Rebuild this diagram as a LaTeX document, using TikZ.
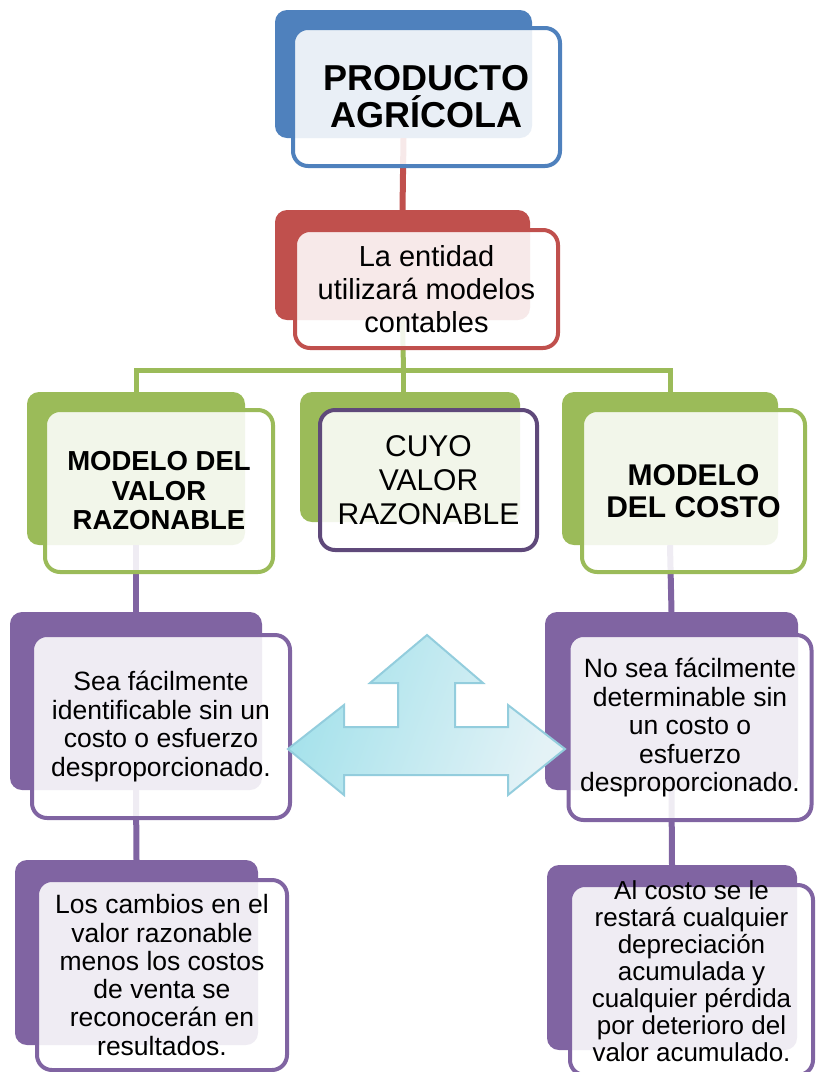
\documentclass[tikz,border=0pt]{standalone}
\usepackage{fontspec}
\setmainfont{Liberation Sans}
\usetikzlibrary{calc}
\definecolor{azul}{HTML}{4F81BD}
\definecolor{rojo}{HTML}{C0504D}
\definecolor{verde}{HTML}{9BBB59}
\definecolor{morado}{HTML}{8064A2}
\definecolor{moradoosc}{HTML}{5F497A}
\definecolor{celeste}{HTML}{93CDDD}
\tikzset{
  back/.style={rectangle,rounded corners=12pt,inner sep=0pt},
  front/.style={rectangle,rounded corners=15pt,inner sep=0pt,line width=4pt,
    fill=white,fill opacity=0.88,text opacity=1,align=center,text=black},
  link/.style={line width=6pt},
}
\begin{document}
\begin{tikzpicture}[x=1pt,y=-1pt]
  \useasboundingbox (0,0) rectangle (815,1072);

  % back rectangles
  \node[back,fill=azul,minimum width=257pt,minimum height=128pt] (prodback) at (403.5,74) {};
  \node[back,fill=rojo,minimum width=255pt,minimum height=110pt] (entback) at (402.5,265) {};
  \node[back,fill=verde,minimum width=218pt,minimum height=153pt] (valback) at (136,468.5) {};
  \node[back,fill=verde,minimum width=220pt,minimum height=130pt] (cuyoback) at (410,457) {};
  \node[back,fill=verde,minimum width=216pt,minimum height=153pt] (costback) at (670,468.5) {};
  \node[back,fill=morado,minimum width=252pt,minimum height=178pt] (seaback) at (136,701) {};
  \node[back,fill=morado,minimum width=253pt,minimum height=178pt] (nosback) at (671.5,701) {};
  \node[back,fill=morado,minimum width=243pt,minimum height=185pt] (cambback) at (136.5,952.5) {};
  \node[back,fill=morado,minimum width=250pt,minimum height=185pt] (restback) at (672,957.5) {};

  % connectors
  \coordinate (bus) at (403.5,370);
  \draw[link,rojo] (prodback.south) -- (entback.north);
  \draw[link,verde,line width=5pt] (entback.south) -- (bus);
  \draw[link,verde,line width=5pt] (valback.north) |- (bus) -| (costback.north);
  \draw[link,verde,line width=5pt] (bus) -- (bus |- cuyoback.north);
  \draw[link,morado] (valback.south) -- (seaback.north);
  \draw[link,morado] (costback.south) -- (nosback.north);
  \draw[link,morado] (seaback.south) -- (cambback.north);
  \draw[link,morado] (nosback.south) -- (restback.north);

  % front boxes
  \node[front,draw=azul,minimum width=267pt,minimum height=138pt,
    font=\fontsize{36}{37}\selectfont\bfseries] (prod) at (426.5,97) {PRODUCTO\\AGRÍCOLA};
  \node[front,draw=rojo,minimum width=263pt,minimum height=118pt,
    font=\fontsize{29}{33}\selectfont] (ent) at (426.5,289) {La entidad\\utilizará modelos\\contables};
  \node[front,draw=verde,minimum width=228pt,minimum height=162pt,
    font=\fontsize{27.5}{29.5}\selectfont\bfseries] (val) at (159,491) {MODELO DEL\\VALOR\\RAZONABLE};
  \node[front,draw=moradoosc,minimum width=217pt,minimum height=140pt,
    font=\fontsize{30}{34}\selectfont] (cuyo) at (428.5,480) {CUYO\\VALOR\\RAZONABLE};
  \node[front,draw=verde,minimum width=223pt,minimum height=162pt,
    font=\fontsize{30}{32}\selectfont\bfseries] (cost) at (693.5,491) {MODELO\\DEL COSTO};
  \node[front,draw=morado,minimum width=258pt,minimum height=183pt,
    font=\fontsize{26.5}{28.5}\selectfont] (sea) at (161,726.5)
    {Sea fácilmente\\identificable sin un\\costo o esfuerzo\\desproporcionado.};
  \node[front,draw=morado,minimum width=243pt,minimum height=185pt,
    font=\fontsize{26.5}{28.5}\selectfont] (nos) at (690,727.5)
    {No sea fácilmente\\determinable sin\\un costo o\\esfuerzo\\desproporcionado.};
  \node[front,draw=morado,minimum width=250pt,minimum height=190pt,
    font=\fontsize{26.5}{28.3}\selectfont] (camb) at (162,975)
    {Los cambios en el\\valor razonable\\menos los costos\\de venta se\\reconocerán en\\resultados.};
  \node[front,draw=morado,minimum width=243pt,minimum height=190pt] (rest) at (691.5,980) {};
  \node[align=center,font=\fontsize{26}{27}\selectfont,yshift=9pt] (resttext) at (rest.center)
    {Al costo se le\\restará cualquier\\depreciación\\acumulada y\\cualquier pérdida\\por deterioro del\\valor acumulado.};

  % three way arrow
  \draw[celeste,line width=2pt,line join=miter,shading=axis,left color=celeste!85!cyan!70,right color=celeste!25,shading angle=70]
    (427,635) -- (483,683) -- (455,683) -- (455,727) -- (508,727) -- (508,705)
    -- (565,749) -- (508,795) -- (508,775) -- (344,775) -- (344,795) -- (288,749)
    -- (344,705) -- (344,727) -- (398,727) -- (398,683) -- (370,683) -- cycle;
\end{tikzpicture}
\end{document}
